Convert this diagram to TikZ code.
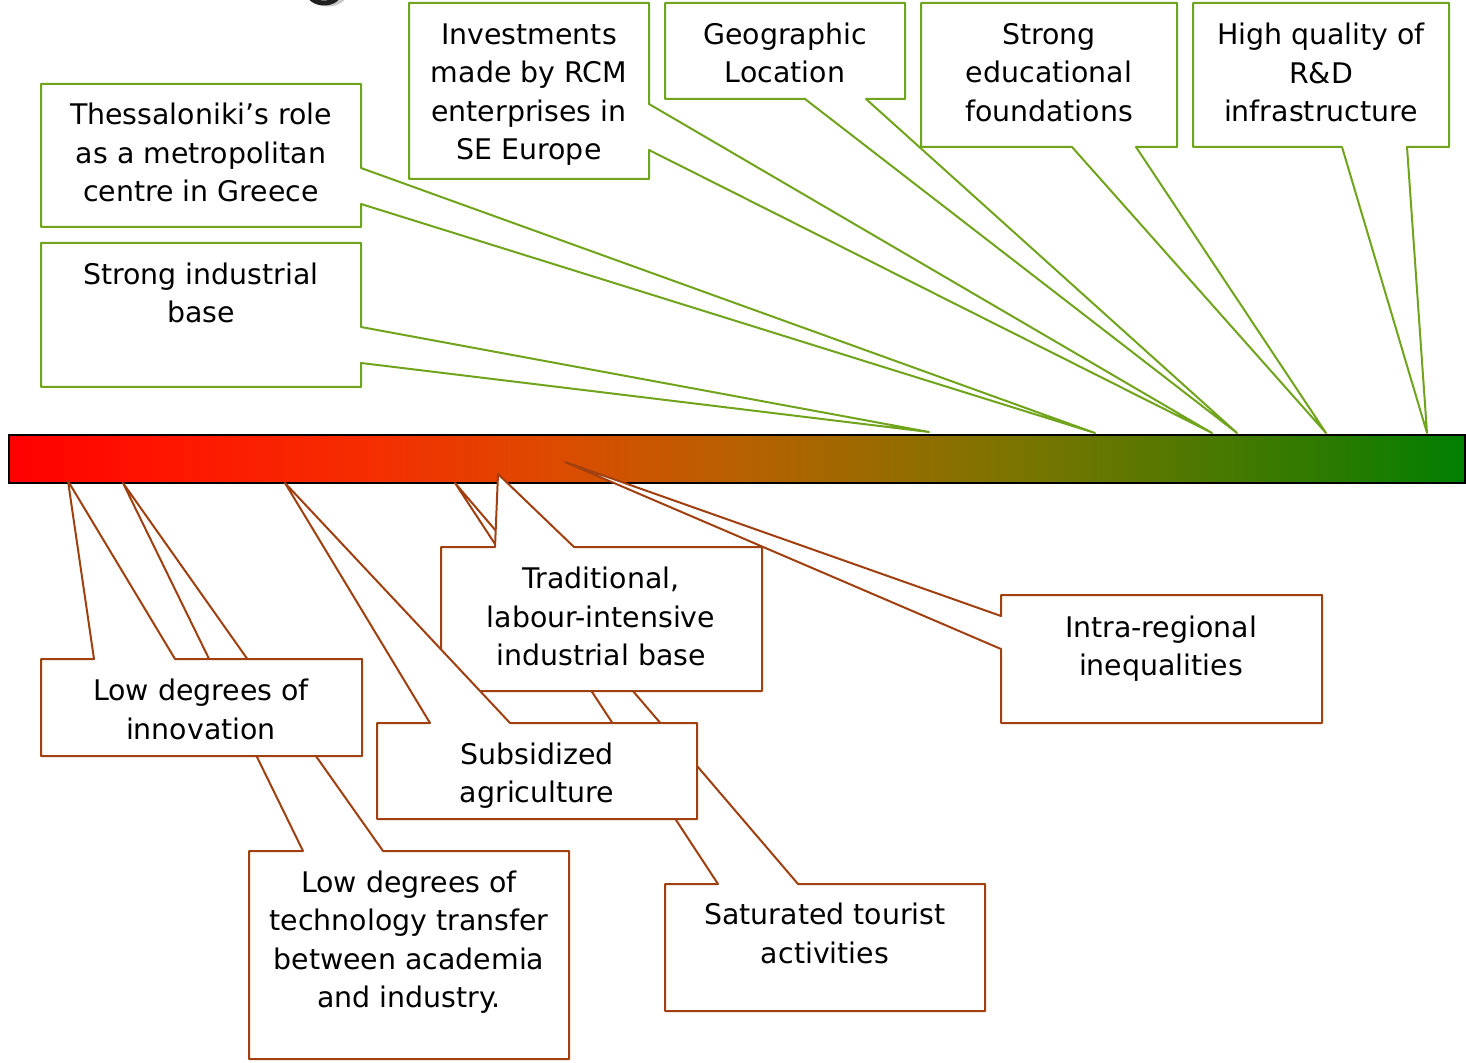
\documentclass[tikz,border=0pt]{standalone}
\usepackage{fontspec}
\setmainfont{DejaVu Sans}
\definecolor{posgreen}{RGB}{112,164,28}
\definecolor{negbrown}{RGB}{160,64,16}
\pgfdeclarehorizontalshading{barshade}{100bp}{rgb(0bp)=(1,0,0); rgb(25bp)=(1,0,0); rgb(30bp)=(1,0.08,0); rgb(37.5bp)=(0.96,0.18,0); rgb(43.5bp)=(0.87,0.29,0); rgb(50bp)=(0.72,0.38,0); rgb(55bp)=(0.6,0.42,0); rgb(60bp)=(0.47,0.46,0); rgb(65bp)=(0.33,0.47,0); rgb(70bp)=(0.18,0.48,0); rgb(75bp)=(0,0.5,0); rgb(100bp)=(0,0.5,0)}
\tikzset{
  strengthbox/.style={draw=posgreen, fill=white, line width=1pt, line join=round},
  weakbox/.style={draw=negbrown, fill=white, line width=1pt, line join=round},
  lbl/.style={align=center, inner sep=0pt, text=black, font=\fontsize{14.2}{19.25}\selectfont}
}
\begin{document}
\begin{tikzpicture}[x=0.5pt,y=-0.5pt]
\useasboundingbox (0,0) rectangle (1466,1063);
% remnant of a cut-off glyph at the top edge
\begin{scope}
\clip (0,0) rectangle (1466,12);
\draw[gray!45, line width=2.5pt] (328,-8) ellipse [x radius=17, y radius=12];
\draw[gray!25!black, line width=2.5pt] (324,-9) ellipse [x radius=16, y radius=12];
\end{scope}
% gradient bar
\shade[shading=barshade] (9,435) rectangle (1465,483);
\draw[black, line width=1pt] (9,435) rectangle (1465,483);
% top callouts (strengths)
\draw[strengthbox] (41,84) -- (361,84) -- (361,168) -- (1095,433) -- (361,204) -- (361,227) -- (41,227) -- cycle;
\node[lbl] (thess) at (201,152.5) {Thessaloniki’s role\\as a metropolitan\\centre in Greece};
\draw[strengthbox] (41,243) -- (361,243) -- (361,327) -- (929,432) -- (361,363) -- (361,387) -- (41,387) -- cycle;
\node[lbl] (indus) at (201,293) {Strong industrial\\base};
\draw[strengthbox] (409,3) -- (649,3) -- (649,104) -- (1212,433) -- (649,150) -- (649,179) -- (409,179) -- cycle;
\node[lbl] (invest) at (529,94.5) {Investments\\made by RCM\\enterprises in\\SE Europe};
\draw[strengthbox] (665,3) -- (905,3) -- (905,99) -- (866,99) -- (1237,433) -- (805,99) -- (665,99) -- cycle;
\node[lbl] (geo) at (785,53) {Geographic\\Location};
\draw[strengthbox] (921,3) -- (1177,3) -- (1177,147) -- (1136,147) -- (1326,433) -- (1072,147) -- (921,147) -- cycle;
\node[lbl] (edu) at (1049,72.5) {Strong\\educational\\foundations};
\draw[strengthbox] (1193,3) -- (1449,3) -- (1449,147) -- (1407,147) -- (1427,433) -- (1342,147) -- (1193,147) -- cycle;
\node[lbl] (rd) at (1321,72.5) {High quality of\\R\&D\\infrastructure};
% bottom callouts (weaknesses)
\draw[weakbox] (665,884) -- (718,884) -- (455,483) -- (798,884) -- (985,884) -- (985,1011) -- (665,1011) -- cycle;
\node[lbl] (tour) at (825,933.5) {Saturated tourist\\activities};
\draw[weakbox] (441,547) -- (495,547) -- (498,474) -- (574,547) -- (762,547) -- (762,691) -- (441,691) -- cycle;
\node[lbl] (trad) at (601,616.5) {Traditional,\\labour-intensive\\industrial base};
\draw[weakbox] (377,723) -- (430,723) -- (285,483) -- (510,723) -- (697,723) -- (697,819) -- (377,819) -- cycle;
\node[lbl] (agri) at (537,775.5) {Subsidized\\agriculture};
\draw[weakbox] (249,851) -- (303,851) -- (123,483) -- (383,851) -- (569,851) -- (569,1059) -- (249,1059) -- cycle;
\node[lbl] (tech) at (409,942) {Low degrees of\\technology transfer\\between academia\\and industry.};
\draw[weakbox] (41,659) -- (94,659) -- (68,481) -- (175,659) -- (362,659) -- (362,756) -- (41,756) -- cycle;
\node[lbl] (innov) at (201,709.5) {Low degrees of\\innovation};
\draw[weakbox] (1001,595) -- (1322,595) -- (1322,723) -- (1001,723) -- (1001,649) -- (565,462) -- (1001,616) -- cycle;
\node[lbl] (intra) at (1161,648.5) {Intra-regional\\inequalities};
\end{tikzpicture}
\end{document}
